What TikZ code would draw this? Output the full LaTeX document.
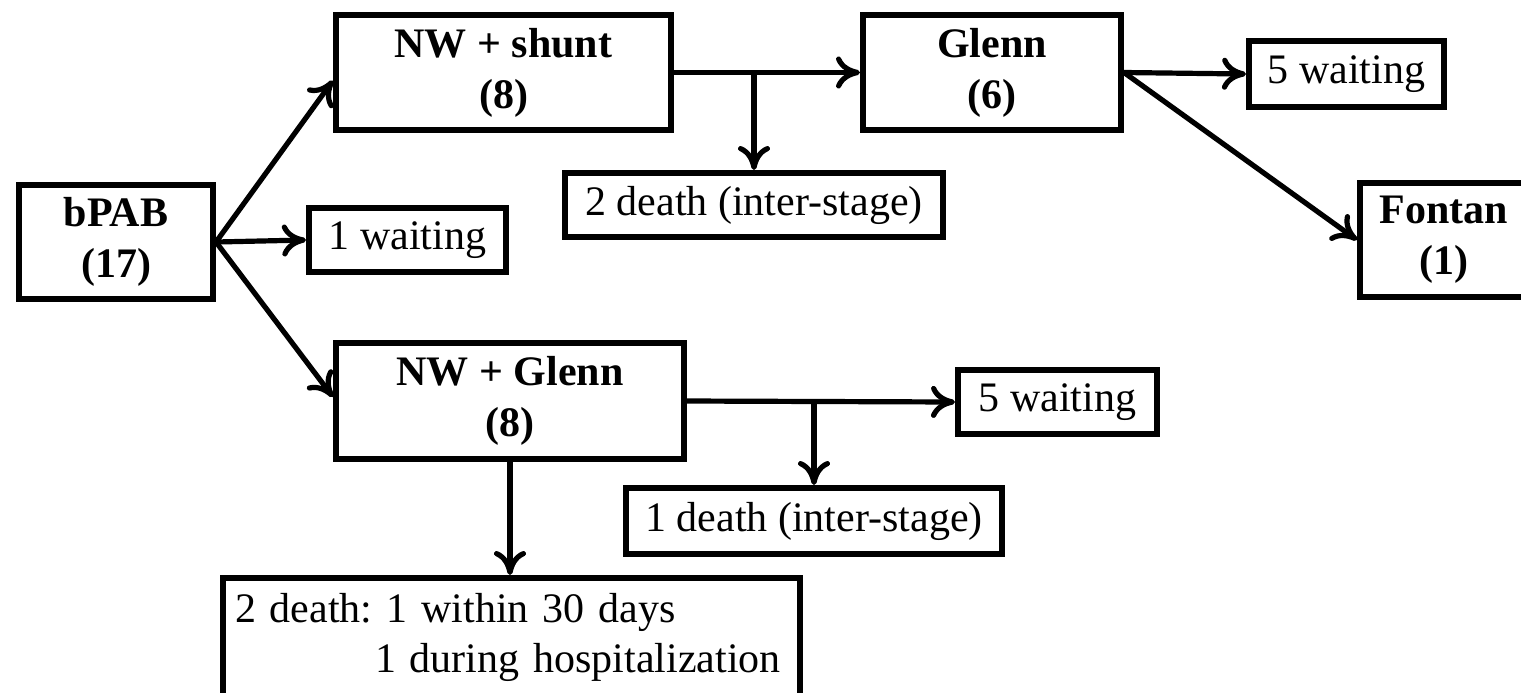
\documentclass[tikz,border=0pt]{standalone}
\usepackage{fontspec}
\setmainfont{Liberation Serif}
\usetikzlibrary{arrows.meta}

\begin{document}
\frenchspacing
\begin{tikzpicture}[x=0.5pt, y=-0.5pt,
    font=\fontsize{21}{25}\selectfont,
    box/.style={draw, line width=3pt, inner sep=0pt, align=center},
    stage/.style={box, font=\fontsize{21}{25.5}\selectfont\bfseries},
    flow/.style={line width=2.6pt, -{To[length=12pt,width=16pt]}}]
  \useasboundingbox (0,0) rectangle (1521,692);

  \node[stage, minimum width=97pt, minimum height=57pt] (bpab) at (116,242) {bPAB\\(17)};
  \node[stage, minimum width=167.5pt, minimum height=57.5pt] (nwshunt) at (503.5,72.5) {NW + shunt\\(8)};
  \node[stage, minimum width=129pt, minimum height=57.5pt] (glenn) at (992,72.5) {Glenn\\(6)};
  \node[box, minimum width=97.5pt, minimum height=33pt] (wait5a) at (1346.5,74) {5 waiting};
  \node[box, minimum width=189pt, minimum height=32pt] (death2) at (754,205) {2 death (inter-stage)};
  \node[box, minimum width=98.5pt, minimum height=32pt] (wait1) at (407.5,240) {1 waiting};
  \node[stage, minimum width=84pt, minimum height=57pt] (fontan) at (1444,240) {Fontan\\(1)};
  \node[stage, minimum width=174pt, minimum height=58pt] (nwglenn) at (510,401) {NW + Glenn\\(8)};
  \node[box, minimum width=99.5pt, minimum height=32pt] (wait5b) at (1057.5,402) {5 waiting};
  \node[box, minimum width=188pt, minimum height=33pt] (death1) at (814,521) {1 death (inter-stage)};
  \node[box, minimum width=288.5pt, minimum height=59.5pt, align=left, text width=276.5pt,
    inner xsep=6pt] (hosp) at (511.5,637.5)
    {2 death: 1 within 30 days\\\hspace*{70pt}1 during hospitalization};

  \draw[flow] (bpab.east) -- ([yshift=-4pt]nwshunt.west);
  \draw[flow] (bpab.east) -- (wait1.west);
  \draw[flow] (bpab.east) -- ([yshift=2pt]nwglenn.west);
  \draw[flow] (nwshunt.east) -- (glenn.west);
  \draw[flow] (nwshunt.east -| death2.north) -- (death2.north);
  \draw[flow] (glenn.east) -- (wait5a.west);
  \draw[flow] (glenn.east) -- (fontan.west);
  \draw[flow] (nwglenn.east) -- (wait5b.west);
  \draw[flow] (nwglenn.east -| death1.north) -- (death1.north);
  \draw[flow] (nwglenn.south) -- (nwglenn.south |- hosp.north);
\end{tikzpicture}
\end{document}
